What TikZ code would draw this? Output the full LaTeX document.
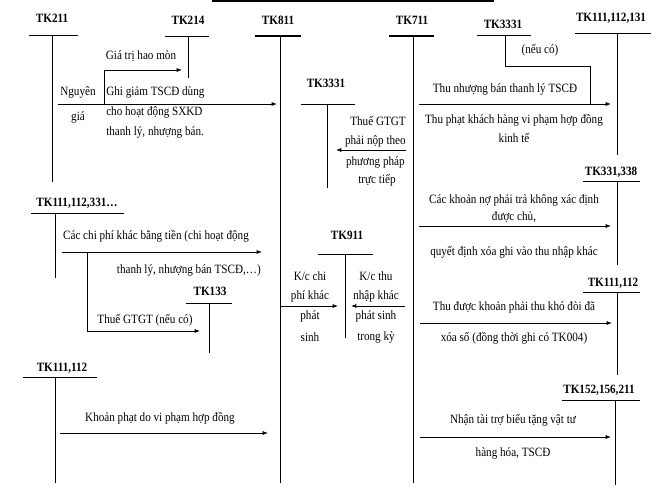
\documentclass[tikz,border=0pt]{standalone}
\usepackage{fontspec}
\setmainfont{Liberation Serif}[FakeStretch=0.88]
\usetikzlibrary{arrows.meta}
\begin{document}
\begin{tikzpicture}[x=0.75pt,y=-0.75pt,
  every node/.style={inner sep=0pt,font=\fontsize{9.5}{11}\selectfont},
  hd/.style={font=\fontsize{9.5}{11}\selectfont\bfseries},
  tx/.style={},
  ln/.style={line width=0.6pt},
  ar/.style={line width=0.6pt,-{Latex[length=4pt,width=3pt]}}]
\useasboundingbox (0,0) rectangle (661,494);
\draw[line width=0.8pt] (212,1) -- (494,1);
% TK211
\node[hd] (h211) at (52,18) {TK211};
\draw[ln] (29,35) -- (78,35); \draw[ln] (52,35) -- (52,182);
\node[hd] (h214) at (188,20) {TK214};
\draw[ln] (165,36) -- (209,36); \draw[ln] (188,36) -- (188,78);
\node[hd] (h811) at (278,20) {TK811};
\draw[line width=1pt] (255,36) -- (301,36); \draw[ln] (280,36) -- (280,483);
\coordinate (a1s) at (58,104); \coordinate (a1e) at (277,104);
\draw[ar] (a1s) -- (a1e);
\coordinate (b1) at (104,104); \coordinate (b2) at (104,70); \coordinate (b3) at (182,70);
\draw[ar] (b1) -- (b2) -- (b3);
\node (t1) at (141,56) {Giá trị hao mòn};
\node (t2) at (78,92) {Nguyên};
\node (t3) at (78,117) {giá};
\node[anchor=west] (t4) at (106,92) {Ghi giảm TSCĐ dùng};
\node[anchor=west] (t5) at (106,112) {cho hoạt động SXKD};
\node[anchor=west] (t6) at (106,132) {thanh lý, nhượng bán.};
% TK111,112,331
\node[hd] (h331) at (77,203) {TK111,112,331…};
\draw[ln] (31,213) -- (124,213); \draw[ln] (55,213) -- (55,278);
\draw[ar] (62,252) -- (262,252);
\node (t7) at (156,236) {Các chi phí khác bằng tiền (chi hoạt động};
\node[anchor=east] (t8) at (261,270) {thanh lý, nhượng bán TSCĐ,…)};
\draw[ar] (87,252) -- (87,331) -- (200,331);
\node (t9) at (145,320) {Thuế GTGT (nếu có)};
\node[hd] (h133) at (210,291) {TK133};
\draw[ln] (186,303) -- (232,303); \draw[ln] (209,303) -- (209,353);
% TK111,112 left
\node[hd] (h112) at (62,368) {TK111,112};
\draw[ln] (23,377) -- (97,377); \draw[ln] (55,377) -- (55,483);
\draw[ar] (60,433) -- (268,433);
\node (t10) at (160,418) {Khoản phạt do vi phạm hợp đồng};
% TK3331 mid
\node[hd] (h3331a) at (326,83) {TK3331};
\draw[ln] (301,104) -- (355,104); \draw[ln] (327,104) -- (327,188);
\draw[ar] (406,150) -- (336,150);
\node[anchor=east] (t11) at (406,121) {Thuế GTGT};
\node[anchor=east] (t12) at (406,141) {phải nộp theo};
\node[anchor=east] (t13) at (405,162) {phương pháp};
\node (t14) at (377,180) {trực tiếp};
% TK711
\node[hd] (h711) at (412,20) {TK711};
\draw[line width=1pt] (389,36) -- (434,36); \draw[ln] (413,36) -- (413,483);
% TK911
\node[hd] (h911) at (347,235) {TK911};
\draw[ln] (318,254) -- (373,254); \draw[ln] (345,254) -- (345,338);
\draw[ar] (280,306) -- (338,306);
\draw[ar] (405,306) -- (351,306);
\node (k1) at (310,276) {K/c chi};
\node (k2) at (310,296) {phí khác};
\node (k3) at (310,316) {phát};
\node (k4) at (310,337) {sinh};
\node (k5) at (376,276) {K/c thu};
\node (k6) at (376,296) {nhập khác};
\node (k7) at (376,316) {phát sinh};
\node (k8) at (376,337) {trong kỳ};
% TK3331 right
\node[hd] (h3331b) at (503,24) {TK3331};
\draw[ln] (477,35) -- (531,35);
\draw[ln] (505,35) -- (505,66) -- (590,66) -- (590,104);
\node (t15) at (540,50) {(nếu có)};
\node[hd] (h131) at (611,18) {TK111,112,131};
\draw[ln] (575,33) -- (651,33); \draw[ln] (617,33) -- (617,155);
\draw[ar] (419,104) -- (611,104);
\node (t16) at (505,89) {Thu nhượng bán thanh lý TSCĐ};
\node (t17) at (514,120) {Thu phạt khách hàng vi phạm hợp đồng};
\node (t18) at (514,138) {kinh tế};
% TK331,338
\node[hd] (h338) at (611,172) {TK331,338};
\draw[ln] (583,181) -- (640,181); \draw[ln] (617,181) -- (617,265);
\draw[ar] (419,226) -- (611,226);
\node (t19) at (514,200) {Các khoản nợ phải trả không xác định};
\node (t20) at (514,217) {được chủ,};
\node (t21) at (514,252) {quyết định xóa ghi vào thu nhập khác};
% TK111,112 right
\node[hd] (h112b) at (613,283) {TK111,112};
\draw[ln] (583,292) -- (640,292); \draw[ln] (617,292) -- (617,375);
\draw[ar] (420,323) -- (612,323);
\node (t22) at (514,307) {Thu được khoản phải thu khó đòi đã};
\node (t23) at (514,338) {xóa sổ (đồng thời ghi có TK004)};
% TK152
\node[hd] (h152) at (599,390) {TK152,156,211};
\draw[ln] (562,400) -- (640,400); \draw[ln] (615,400) -- (615,485);
\draw[ar] (420,437) -- (611,437);
\node (t24) at (513,420) {Nhận tài trợ biếu tặng vật tư};
\node (t25) at (513,453) {hàng hóa, TSCĐ};
\end{tikzpicture}
\end{document}
